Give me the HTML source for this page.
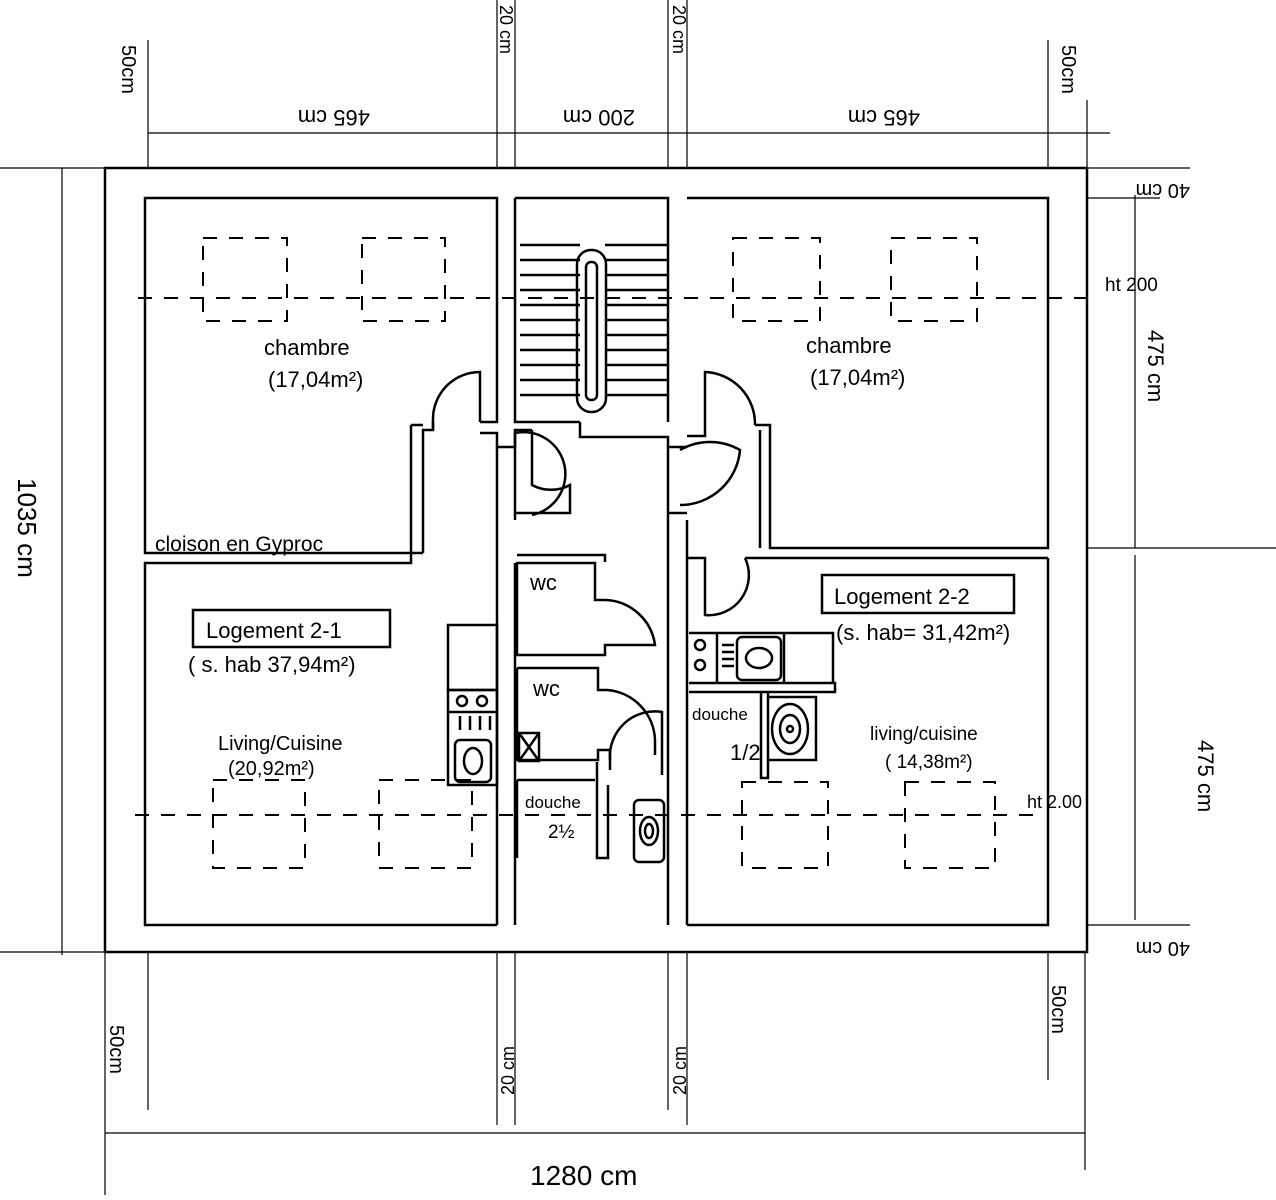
<!DOCTYPE html>
<html><head><meta charset="utf-8"><style>
html,body{margin:0;padding:0;background:#fff}
svg{display:block}
text{font-family:"Liberation Sans",sans-serif;fill:#000}
</style></head><body>
<svg width="1276" height="1200" viewBox="0 0 1276 1200" xmlns="http://www.w3.org/2000/svg">
<g fill="none" stroke="#000" stroke-width="2.5">
<rect x="105" y="168" width="982" height="784"/>
<path d="M423,553 H145 V198 H497 V422 H480 M433,422 V430 H423 V553"/>
<path d="M480,422 V372 A47,47 0 0 0 433,420 V430"/>
<path d="M411,425 V563 H145 V925 H497 M411,425 H423"/>
<path d="M480,433 H497 V447 H515 V430 H532"/>
<path d="M497,447 V925 M515,447 V520 M515,563 V925"/>
<path d="M515,447 V433 A40,40 0 0 1 532,515 M532,430 V485 A40,40 0 0 0 570,485 V513 H515"/>
<path d="M580,422 V437 H668 V447 H687"/>
<path d="M668,447 V513 H687 M668,513 V925 M687,520 V558 M687,558 V925"/>
<path d="M680,450 A60,60 0 0 1 740,450 A60,60 0 0 1 680,505"/>
<path d="M515,198 H668 V422 M515,198 V422 H580"/>
<path d="M520,245 H580 M520,260 H580 M520,275 H580 M520,290 H580 M520,305 H580 M520,320 H580 M520,335 H580 M520,350 H580 M520,365 H580 M520,380 H580 M520,395 H580"/>
<path d="M605,245 H668 M605,260 H668 M605,275 H668 M605,290 H668 M605,305 H668 M605,320 H668 M605,335 H668 M605,350 H668 M605,365 H668 M605,380 H668 M605,395 H668"/>
<rect x="577" y="250" width="29" height="162" rx="14"/>
<rect x="586" y="262" width="11" height="138" rx="5"/>
<path d="M687,198 H1048 V548 H770 V425 H755 M705,422 V436 H687 M705,422 V372 A52,52 0 0 1 755,425"/>
<path d="M760,430 V548 M745,558 H1048 M687,558 H705 V615 A40,40 0 0 0 745,558"/>
<path d="M1048,558 V925 H687"/>
<path d="M517,555 H605 V562 M517,563 H595 V600 H605 A52,52 0 0 1 655,645 H605 V655 H517 Z"/>
<path d="M517,668 H598 V690 H607 A52,52 0 0 1 655,740 V755 M517,668 V760 H598 V750 H610 V770"/>
<path d="M610,760 A45,45 0 0 1 662,712 V775"/>
<rect x="519" y="733" width="20" height="28"/><path d="M519,733 L539,761 M539,733 L519,761"/>
<path d="M517,780 H595 M597,762 V858 H608 V785 M517,858 V780"/>
<rect x="634" y="800" width="30" height="62" rx="5"/><ellipse cx="649" cy="831" rx="9" ry="14"/><ellipse cx="649" cy="831" rx="4" ry="7"/>
<rect x="448" y="625" width="49" height="65"/>
<rect x="448" y="690" width="49" height="95"/>
<path d="M448,712 H497"/>
<circle cx="462" cy="701" r="5"/><circle cx="482" cy="701" r="5"/>
<path d="M460,716 V730 M470,716 V730 M480,716 V730 M490,716 V730"/>
<rect x="455" y="740" width="36" height="42" rx="5"/><ellipse cx="473" cy="761" rx="9" ry="13"/>
<path d="M689,633 H833 V683 H689 M689,683 H835 V692 H689"/>
<path d="M717,633 V683 M784,633 V683"/>
<circle cx="700" cy="645" r="5"/><circle cx="700" cy="665" r="5"/>
<rect x="737" y="637" width="44" height="43" rx="5"/><ellipse cx="759" cy="658" rx="13" ry="10"/>
<path d="M722,645 H734 M722,652 H734 M722,659 H734 M722,666 H734"/>
<path d="M761,692 V778 H768 V692 M768,697 H816 V760 H768"/>
<ellipse cx="790" cy="729" rx="18" ry="25"/><ellipse cx="790" cy="729" rx="10" ry="14"/><circle cx="790" cy="729" r="3"/>
<rect x="193" y="610" width="197" height="37"/>
<rect x="822" y="575" width="192" height="38"/>
</g>
<g fill="none" stroke="#000" stroke-width="2" stroke-dasharray="14,12">
<path d="M138,298 H1100 M135,815 H1040"/>
<rect x="203" y="238" width="84" height="83"/><rect x="362" y="238" width="83" height="83"/>
<rect x="733" y="238" width="87" height="83"/><rect x="891" y="238" width="86" height="83"/>
<rect x="213" y="780" width="92" height="88"/><rect x="379" y="780" width="93" height="88"/>
<rect x="742" y="782" width="86" height="86"/><rect x="905" y="782" width="90" height="86"/>
</g>
<g fill="none" stroke="#000" stroke-width="1.2">
<path d="M148,133 H1110 M62,168 V955 M1135,195 V548 M1135,555 V920 M105,1133 H1085"/>
<path d="M148,40 V168 M497,0 V168 M515,0 V168 M668,0 V168 M687,0 V168 M1048,40 V168 M1087,100 V168"/>
<path d="M105,952 V1195 M148,952 V1110 M497,952 V1125 M515,952 V1125 M668,952 V1110 M687,952 V1125 M1048,952 V1080 M1085,952 V1170"/>
<path d="M0,168 H105 M0,952 H105 M1087,168 H1190 M1087,198 H1160 M1087,548 H1276 M1087,925 H1190"/>
</g>
<g font-size="22">
<text x="264" y="355">chambre</text>
<text x="268" y="387">(17,04m²)</text>
<text x="806" y="353">chambre</text>
<text x="810" y="385">(17,04m²)</text>
<text x="155" y="551" font-size="21">cloison en Gyproc</text>
<text x="206" y="638">Logement 2-1</text>
<text x="188" y="672">( s. hab 37,94m²)</text>
<text x="834" y="604">Logement 2-2</text>
<text x="836" y="640">(s. hab= 31,42m²)</text>
<text x="218" y="750" font-size="20">Living/Cuisine</text>
<text x="228" y="775" font-size="20">(20,92m²)</text>
<text x="870" y="740" font-size="19">living/cuisine</text>
<text x="885" y="768" font-size="19">( 14,38m²)</text>
<text x="530" y="590">wc</text>
<text x="533" y="696">wc</text>
<text x="525" y="808" font-size="17">douche</text>
<text x="548" y="838" font-size="19">2½</text>
<text x="692" y="720" font-size="17">douche</text>
<text x="730" y="760" font-size="22">1/2</text>
<text x="1105" y="291" font-size="19">ht 200</text>
<text x="1027" y="808" font-size="18">ht 2.00</text>
<text x="530" y="1185" font-size="28">1280 cm</text>
<text transform="translate(310,98) rotate(180)" x="-60" y="-12" font-size="22">465 cm</text>
<text transform="translate(590,98) rotate(180)" x="-45" y="-12" font-size="22">200 cm</text>
<text transform="translate(870,98) rotate(180)" x="-50" y="-12" font-size="22">465 cm</text>
<text transform="translate(1150,172) rotate(180)" x="-40" y="-12" font-size="20">40 cm</text>
<text transform="translate(1150,930) rotate(180)" x="-40" y="-12" font-size="20">40 cm</text>
<text transform="translate(122,45) rotate(90)" font-size="20">50cm</text>
<text transform="translate(1062,45) rotate(90)" font-size="20">50cm</text>
<text transform="translate(500,5) rotate(90)" font-size="18">20 cm</text>
<text transform="translate(673,5) rotate(90)" font-size="18">20 cm</text>
<text transform="translate(1148,330) rotate(90)" font-size="22">475 cm</text>
<text transform="translate(1198,740) rotate(90)" font-size="22">475 cm</text>
<text transform="translate(18,478) rotate(90)" font-size="26">1035 cm</text>
<text transform="translate(110,1025) rotate(90)" font-size="20">50cm</text>
<text transform="translate(1052,985) rotate(90)" font-size="20">50cm</text>
<text transform="translate(514,1095) rotate(-90)" font-size="18">20 cm</text>
<text transform="translate(686,1095) rotate(-90)" font-size="18">20 cm</text>
</g>
</svg>
</body></html>
